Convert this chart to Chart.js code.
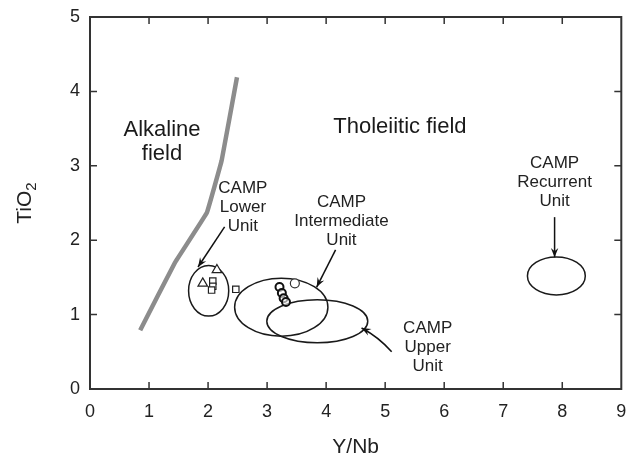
<!DOCTYPE html>
<html lang="en">
<head>
<meta charset="UTF-8">
<title>TiO2 vs Y/Nb</title>
<script src="https://cdn.jsdelivr.net/npm/chart.js"></script>
<style>
  html, body { margin: 0; padding: 0; background: #fff; }
  #wrap { width: 628px; height: 460px; }
</style>
</head>
<body>
<div id="wrap"><canvas id="chart" width="628" height="460"></canvas></div>
<script>
// axis ranges and ticks
const xTicks = [0, 1, 2, 3, 4, 5, 6, 7, 8, 9];
const yTicks = [0, 1, 2, 3, 4, 5];

// alkaline / tholeiitic boundary (grey line)
const boundaryX = [0.85, 1.44, 1.98, 2.23, 2.49];
const boundaryY = [0.79, 1.70, 2.37, 3.07, 4.19];

// samples
const lowerTriX = [2.15, 1.91];
const lowerTriY = [1.60, 1.42];
const lowerSqX = [2.08, 2.08, 2.06, 2.47];
const lowerSqY = [1.45, 1.38, 1.33, 1.34];
const interCircX = [3.21, 3.25, 3.28, 3.32];
const interCircY = [1.37, 1.29, 1.22, 1.17];
const openCircX = [3.47];
const openCircY = [1.42];

// unit fields (ellipses): centre and half axes in data units
const fieldCx = [2.01, 3.24, 3.85, 7.90];
const fieldCy = [1.32, 1.10, 0.91, 1.52];
const fieldRx = [0.34, 0.79, 0.855, 0.49];
const fieldRy = [0.34, 0.39, 0.29, 0.255];

// labels
const unitLabels = [
  ['CAMP', 'Lower', 'Unit'],
  ['CAMP', 'Intermediate', 'Unit'],
  ['CAMP', 'Upper', 'Unit'],
  ['CAMP', 'Recurrent', 'Unit']
];
const unitLabelX = [2.59, 4.26, 5.72, 7.87];
const unitLabelY = [2.70, 2.51, 0.82, 3.04];
// arrows: from -> to
const arrowFromX = [2.28, 4.16, 5.11, 7.87];
const arrowFromY = [2.18, 1.87, 0.50, 2.31];
const arrowToX = [1.83, 3.84, 4.60, 7.87];
const arrowToY = [1.64, 1.37, 0.82, 1.77];
const arrowBend = [0, 0, 0.06, 0];

const fieldNames = [['Alkaline', 'field'], ['Tholeiitic field']];
const fieldNameX = [1.22, 5.25];
const fieldNameY = [3.48, 3.52];

const pts = (xs, ys) => xs.map((x, i) => ({ x: x, y: ys[i] }));
const FONT = 'Arial, "Liberation Sans", sans-serif';

const overlay = {
  id: 'overlay',
  beforeDatasetsDraw(chart) {
    const { ctx, scales: { x, y } } = chart;
    ctx.save();
    ctx.strokeStyle = '#1a1a1a';
    ctx.lineWidth = 1.5;
    for (let i = 0; i < fieldCx.length; i++) {
      const cx = x.getPixelForValue(fieldCx[i]);
      const cy = y.getPixelForValue(fieldCy[i]);
      const rx = Math.abs(x.getPixelForValue(fieldCx[i] + fieldRx[i]) - cx);
      const ry = Math.abs(y.getPixelForValue(fieldCy[i] + fieldRy[i]) - cy);
      ctx.beginPath();
      ctx.ellipse(cx, cy, rx, ry, 0, 0, Math.PI * 2);
      ctx.stroke();
    }
    ctx.restore();
  },
  afterDraw(chart) {
    const { ctx, chartArea: a, scales: { x, y } } = chart;
    ctx.save();
    // frame with inward ticks
    ctx.strokeStyle = '#333';
    ctx.lineWidth = 2;
    ctx.strokeRect(a.left, a.top, a.right - a.left, a.bottom - a.top);
    ctx.lineWidth = 1.5;
    ctx.beginPath();
    xTicks.slice(1, -1).forEach(v => {
      const px = x.getPixelForValue(v);
      ctx.moveTo(px, a.bottom); ctx.lineTo(px, a.bottom - 7);
      ctx.moveTo(px, a.top); ctx.lineTo(px, a.top + 7);
    });
    yTicks.slice(1, -1).forEach(v => {
      const py = y.getPixelForValue(v);
      ctx.moveTo(a.left, py); ctx.lineTo(a.left + 7, py);
      ctx.moveTo(a.right, py); ctx.lineTo(a.right - 7, py);
    });
    ctx.stroke();

    // field names
    ctx.fillStyle = '#1a1a1a';
    ctx.textAlign = 'center';
    ctx.textBaseline = 'middle';
    ctx.font = '22px ' + FONT;
    fieldNames.forEach((lines, i) => {
      const px = x.getPixelForValue(fieldNameX[i]);
      const py = y.getPixelForValue(fieldNameY[i]);
      lines.forEach((t, j) => ctx.fillText(t, px, py + j * 24));
    });

    // unit labels
    ctx.fillStyle = '#222';
    ctx.font = '17px ' + FONT;
    unitLabels.forEach((lines, i) => {
      const px = x.getPixelForValue(unitLabelX[i]);
      const py = y.getPixelForValue(unitLabelY[i]);
      lines.forEach((t, j) => ctx.fillText(t, px, py + j * 19));
    });

    // arrows
    ctx.strokeStyle = '#111';
    ctx.fillStyle = '#111';
    ctx.lineWidth = 1.5;
    for (let i = 0; i < arrowFromX.length; i++) {
      const x0 = x.getPixelForValue(arrowFromX[i]), y0 = y.getPixelForValue(arrowFromY[i]);
      const x1 = x.getPixelForValue(arrowToX[i]), y1 = y.getPixelForValue(arrowToY[i]);
      const mx = (x0 + x1) / 2, my = (y0 + y1) / 2;
      const len = Math.hypot(x1 - x0, y1 - y0);
      const nx = -(y1 - y0) / len, ny = (x1 - x0) / len;
      const b = arrowBend[i] * (x.getPixelForValue(1) - x.getPixelForValue(0));
      const qx = mx + nx * b, qy = my + ny * b;
      ctx.beginPath();
      ctx.moveTo(x0, y0);
      ctx.quadraticCurveTo(qx, qy, x1, y1);
      ctx.stroke();
      const ang = Math.atan2(y1 - qy, x1 - qx);
      const h = 10, w = 0.38;
      ctx.beginPath();
      ctx.moveTo(x1, y1);
      ctx.lineTo(x1 - h * Math.cos(ang - w), y1 - h * Math.sin(ang - w));
      ctx.lineTo(x1 - h * 0.6 * Math.cos(ang), y1 - h * 0.6 * Math.sin(ang));
      ctx.lineTo(x1 - h * Math.cos(ang + w), y1 - h * Math.sin(ang + w));
      ctx.closePath();
      ctx.fill();
    }

    // axis titles
    ctx.fillStyle = '#222';
    ctx.font = '21px ' + FONT;
    ctx.textAlign = 'center';
    ctx.textBaseline = 'middle';
    ctx.fillText('Y/Nb', (a.left + a.right) / 2, 447);
    ctx.translate(25, (a.top + a.bottom) / 2);
    ctx.rotate(-Math.PI / 2);
    ctx.textAlign = 'left';
    const w1 = ctx.measureText('TiO').width;
    ctx.font = '15px ' + FONT;
    const w2 = ctx.measureText('2').width;
    const sx = -(w1 + w2) / 2;
    ctx.font = '21px ' + FONT;
    ctx.fillText('TiO', sx, 0);
    ctx.font = '15px ' + FONT;
    ctx.fillText('2', sx + w1, 7);
    ctx.restore();
  }
};

new Chart(document.getElementById('chart'), {
  type: 'scatter',
  data: {
    datasets: [
      {
        label: 'boundary',
        data: pts(boundaryX, boundaryY),
        showLine: true,
        borderColor: '#8c8c8c',
        borderWidth: 4.5,
        pointRadius: 0,
        tension: 0.05,
        order: 5
      },
      {
        label: 'Lower triangles',
        data: pts(lowerTriX, lowerTriY),
        pointStyle: 'triangle',
        pointRadius: 5.5,
        backgroundColor: '#fff',
        borderColor: '#222',
        borderWidth: 1.2
      },
      {
        label: 'Lower squares',
        data: pts(lowerSqX, lowerSqY),
        pointStyle: 'rect',
        pointRadius: 4.5,
        backgroundColor: '#fff',
        borderColor: '#222',
        borderWidth: 1.2
      },
      {
        label: 'Intermediate circles',
        data: pts(interCircX, interCircY),
        pointStyle: 'circle',
        pointRadius: 4,
        backgroundColor: 'rgba(255,255,255,0.6)',
        borderColor: '#111',
        borderWidth: 2
      },
      {
        label: 'open circle',
        data: pts(openCircX, openCircY),
        pointStyle: 'circle',
        pointRadius: 4.5,
        backgroundColor: '#fff',
        borderColor: '#333',
        borderWidth: 1.2
      }
    ]
  },
  options: {
    responsive: false,
    animation: false,
    layout: { padding: { top: 17, right: 6, left: 0, bottom: 0 } },
    plugins: { legend: { display: false }, tooltip: { enabled: false } },
    scales: {
      x: {
        type: 'linear',
        min: 0, max: 9,
        afterBuildTicks: s => { s.ticks = xTicks.map(v => ({ value: v })); },
        afterFit: s => { s.height = 71; s.paddingLeft = 0; s.paddingRight = 0; },
        grid: { display: false, drawTicks: false },
        border: { display: false },
        ticks: { color: '#222', font: { size: 18, family: FONT }, padding: 12, maxRotation: 0 }
      },
      y: {
        type: 'linear',
        min: 0, max: 5,
        afterBuildTicks: s => { s.ticks = yTicks.map(v => ({ value: v })); },
        afterFit: s => { s.width = 90; s.paddingTop = 0; s.paddingBottom = 0; },
        grid: { display: false, drawTicks: false },
        border: { display: false },
        ticks: { color: '#222', font: { size: 18, family: FONT }, padding: 10 }
      }
    }
  },
  plugins: [overlay]
});
</script>
</body>
</html>
